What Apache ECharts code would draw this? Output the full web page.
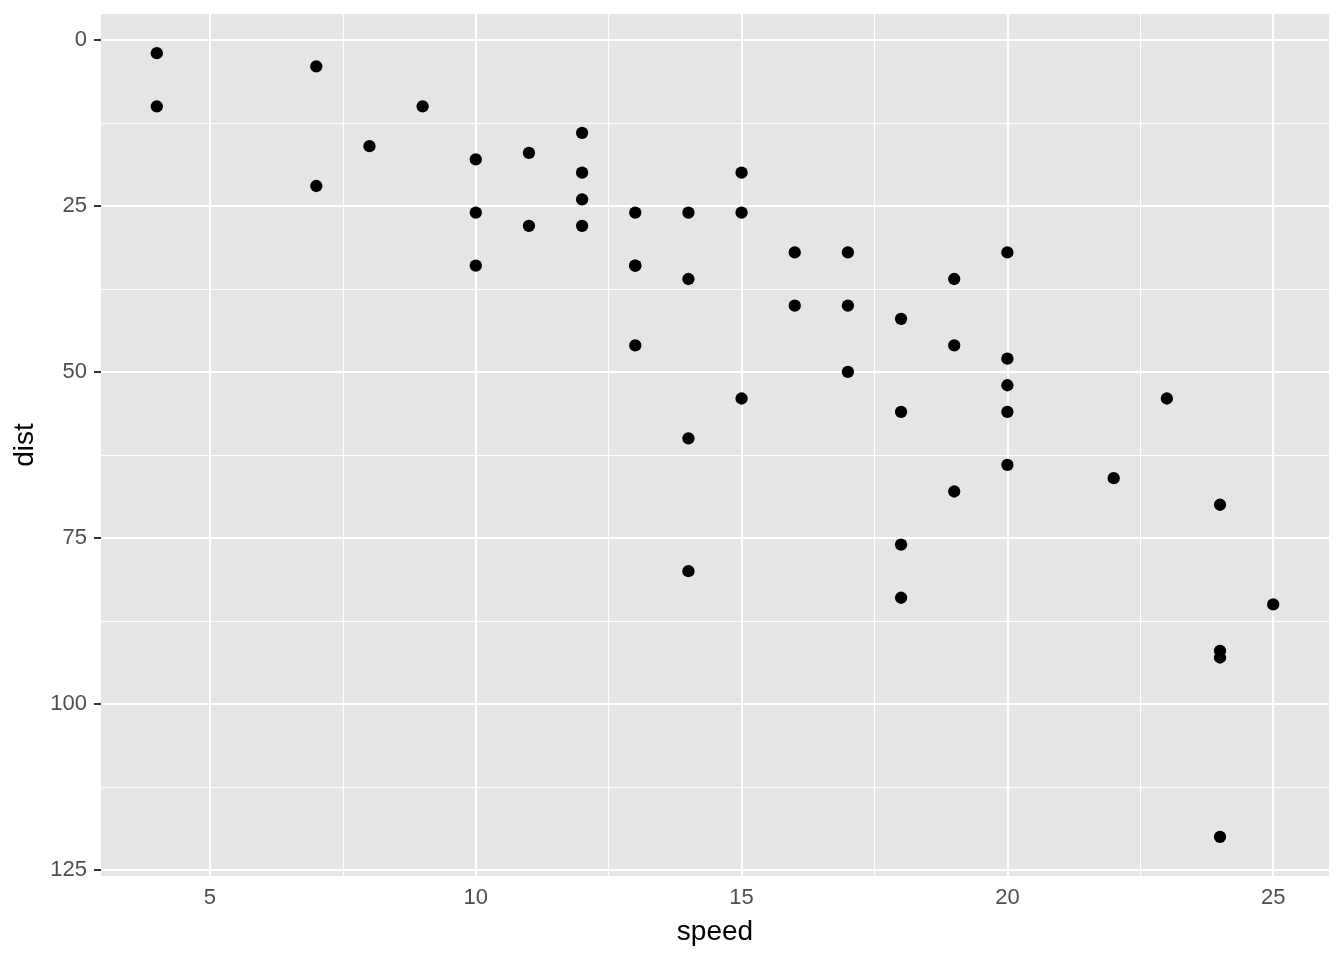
<!DOCTYPE html>
<html>
<head>
<meta charset="utf-8">
<script src="https://cdn.jsdelivr.net/npm/echarts@6/dist/echarts.min.js"></script>
<style>html,body{margin:0;padding:0;background:#fff}#c{width:1344px;height:960px}</style>
</head>
<body>
<div id="c"></div>
<script>
const speed = [4,4,7,7,8,9,10,10,10,11,11,12,12,12,12,13,13,13,13,14,14,14,14,15,15,15,16,16,17,17,17,18,18,18,18,19,19,19,20,20,20,20,20,22,23,24,24,24,24,25];
const dist = [2,10,4,22,16,10,18,26,34,17,28,14,20,24,28,26,34,34,46,26,36,60,80,20,26,54,32,40,32,40,50,42,56,76,84,36,46,68,32,48,52,56,64,66,54,70,92,93,120,85];
const xTicks = [5,10,15,20,25];
const xMinor = [2.5,7.5,12.5,17.5,22.5];
const yTicks = [0,25,50,75,100,125];
const yMinor = [12.5,37.5,62.5,87.5,112.5];
const xRange = [2.95, 26.05];
const yRange = [-3.9, 125.9];

const chart = echarts.init(document.getElementById('c'));
const points = speed.map((s,i)=>[s, dist[i]]);
const lines = [];
xMinor.filter(v=>v>xRange[0]&&v<xRange[1]).forEach(v=>lines.push({xAxis:v, lineStyle:{width:1}}));
yMinor.filter(v=>v>yRange[0]&&v<yRange[1]).forEach(v=>lines.push({yAxis:v, lineStyle:{width:1}}));
xTicks.forEach(v=>lines.push({xAxis:v, lineStyle:{width:2}}));
yTicks.forEach(v=>lines.push({yAxis:v, lineStyle:{width:2}}));

const FONT = 'Liberation Sans, Arial, Helvetica, sans-serif';
const labelStyle = {color:'#4D4D4D', fontSize:22, fontFamily:FONT};
chart.setOption({
  animation:false,
  grid:{left:101, right:15, top:14, bottom:84, show:true, backgroundColor:'#E5E5E5', borderWidth:0},
  xAxis:{type:'value', min:xRange[0], max:xRange[1],
    name:'speed', nameLocation:'middle', nameGap:42,
    nameTextStyle:{color:'#000', fontSize:28, fontFamily:FONT},
    axisLine:{show:false},
    axisTick:{show:true, length:7, lineStyle:{color:'#333', width:2}, customValues:xTicks},
    axisLabel:Object.assign({customValues:xTicks, margin:11}, labelStyle),
    splitLine:{show:false}},
  yAxis:{type:'value', inverse:true, min:yRange[0], max:yRange[1],
    name:'dist', nameLocation:'middle', nameGap:61, nameRotate:90,
    nameTextStyle:{color:'#000', fontSize:28, fontFamily:FONT},
    axisLine:{show:false},
    axisTick:{show:true, length:7, lineStyle:{color:'#333', width:2}, customValues:yTicks},
    axisLabel:Object.assign({customValues:yTicks, margin:14}, labelStyle),
    splitLine:{show:false}},
  series:[{
    type:'scatter', data:points, symbolSize:0, silent:true, z:1, zlevel:0,
    itemStyle:{opacity:0},
    markLine:{silent:true, symbol:['none','none'], label:{show:false}, animation:false,
      lineStyle:{color:'#fff', type:'solid'}, emphasis:{disabled:true}, data:lines}
  },{
    type:'scatter', data:points, symbolSize:12.3, itemStyle:{color:'#000', opacity:1},
    z:5, zlevel:1
  }]
});
</script>
</body>
</html>
